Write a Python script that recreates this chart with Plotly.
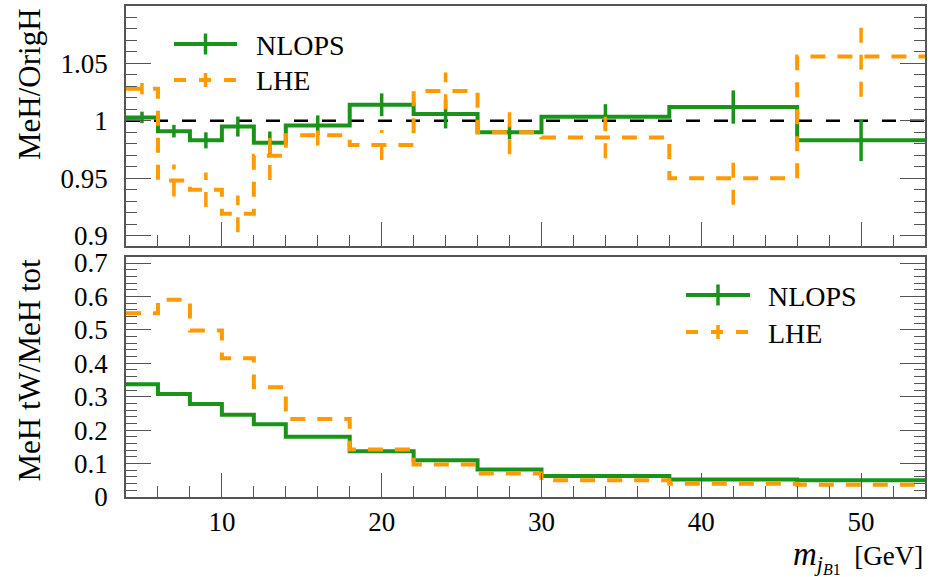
import plotly.graph_objects as go

# ---------------- data ----------------
bin_edges = [4, 6, 8, 10, 12, 14, 18, 22, 26, 30, 38, 46, 54]

nlops_ratio = [1.003, 0.991, 0.983, 0.995, 0.981, 0.996, 1.014, 1.006, 0.990, 1.0035, 1.012, 0.983]
nlops_ratio_err = [0.005, 0.0055, 0.007, 0.0087, 0.0097, 0.0087, 0.0099, 0.0126, 0.006, 0.011, 0.0145, 0.018]

lhe_ratio = [1.028, 0.948, 0.940, 0.919, 0.9695, 0.9875, 0.979, 1.026, 0.990, 0.9855, 0.950, 1.056]
lhe_ratio_err = [0.005, 0.014, 0.015, 0.016, 0.021, 0.009, 0.013, 0.016, 0.019, 0.018, 0.023, 0.035]

nlops_frac = [0.337, 0.308, 0.278, 0.246, 0.218, 0.180, 0.137, 0.110, 0.082, 0.063, 0.052, 0.050]
lhe_frac = [0.550, 0.590, 0.498, 0.415, 0.328, 0.233, 0.142, 0.097, 0.070, 0.050, 0.040, 0.037]

top_tickvals = [0.9, 0.95, 1.0, 1.05]
top_ticktext = ["0.9", "0.95", "1", "1.05"]
bot_tickvals = [0, 0.1, 0.2, 0.3, 0.4, 0.5, 0.6, 0.7]
bot_ticktext = ["0", "0.1", "0.2", "0.3", "0.4", "0.5", "0.6", "0.7"]
x_tickvals = [10, 20, 30, 40, 50]
x_ticktext = ["10", "20", "30", "40", "50"]

series_names = ["NLOPS", "LHE"]

# ---------------- style ----------------
GREEN = "#1b931b"
ORANGE = "#ff9a00"
FONT = "Liberation Serif"
AXC = "#555555"
W, H = 935, 577
L, R, T, B = 126, 10, 6, 80
TOP_DOM = [0.5112, 1.0]
BOT_DOM = [0.0, 0.4888]

centers = [(a + b) / 2 for a, b in zip(bin_edges[:-1], bin_edges[1:])]


def step_xy(vals):
    return bin_edges, list(vals) + [vals[-1]]


def err_xy(vals, errs):
    xs, ys = [], []
    for c, v, e in zip(centers, vals, errs):
        xs += [c, c, None]
        ys += [v - e, v + e, None]
    return xs, ys


fig = go.Figure()

# ---- top panel ----
x, y = step_xy(nlops_ratio)
fig.add_trace(go.Scatter(x=x, y=y, mode="lines", line=dict(color=GREEN, width=4, shape="hv"),
                         xaxis="x", yaxis="y", showlegend=False, name=series_names[0]))
x, y = err_xy(nlops_ratio, nlops_ratio_err)
fig.add_trace(go.Scatter(x=x, y=y, mode="lines", line=dict(color=GREEN, width=3.5),
                         xaxis="x", yaxis="y", showlegend=False, hoverinfo="skip"))
x, y = step_xy(lhe_ratio)
fig.add_trace(go.Scatter(x=x, y=y, mode="lines", line=dict(color=ORANGE, width=4, shape="hv", dash="15px,12px"),
                         xaxis="x", yaxis="y", showlegend=False, name=series_names[1]))
x, y = err_xy(lhe_ratio, lhe_ratio_err)
fig.add_trace(go.Scatter(x=x, y=y, mode="lines", line=dict(color=ORANGE, width=3.5, dash="15px,12px"),
                         xaxis="x", yaxis="y", showlegend=False, hoverinfo="skip"))
# dummy for right-side ticks
fig.add_trace(go.Scatter(x=[None], y=[None], xaxis="x", yaxis="y3", showlegend=False))

# ---- bottom panel ----
x, y = step_xy(nlops_frac)
fig.add_trace(go.Scatter(x=x, y=y, mode="lines", line=dict(color=GREEN, width=4, shape="hv"),
                         xaxis="x2", yaxis="y2", showlegend=False, name=series_names[0]))
x, y = step_xy(lhe_frac)
fig.add_trace(go.Scatter(x=x, y=y, mode="lines", line=dict(color=ORANGE, width=4, shape="hv", dash="15px,12px"),
                         xaxis="x2", yaxis="y2", showlegend=False, name=series_names[1]))
fig.add_trace(go.Scatter(x=[None], y=[None], xaxis="x2", yaxis="y4", showlegend=False))

xr = [bin_edges[0], bin_edges[-1]]
top_range = [0.891, 1.1]
bot_range = [0, 0.718]

common_x = dict(range=xr, showgrid=False, zeroline=False, showline=True, mirror=True, automargin=False,
                linecolor=AXC, linewidth=1.5, ticks="inside", ticklen=24, tickwidth=1.4,
                tickcolor=AXC, tickmode="array", tickvals=x_tickvals, ticktext=x_ticktext,
                minor=dict(ticks="inside", ticklen=11, tickwidth=1.2, tickcolor=AXC,
                           tickmode="linear", tick0=0, dtick=2),
                tickfont=dict(family=FONT, size=27, color="black"))

common_y = dict(showgrid=False, zeroline=False, ticks="inside", ticklen=25, tickwidth=1.4, automargin=False,
                tickcolor=AXC, tickfont=dict(family=FONT, size=27, color="black"))

fig.update_layout(
    width=W, height=H, margin=dict(l=L, r=R, t=T, b=B, autoexpand=False),
    paper_bgcolor="white", plot_bgcolor="white", showlegend=False,
    xaxis=dict(**common_x, anchor="y", showticklabels=False),
    xaxis2=dict(**common_x, anchor="y2", showticklabels=True, ticklabelstandoff=0),
    yaxis=dict(**common_y, domain=TOP_DOM, range=top_range, anchor="x",
               showline=True, mirror=True, linecolor=AXC, linewidth=1.5,
               tickmode="array", tickvals=top_tickvals, ticktext=top_ticktext, ticklabelstandoff=11,
               minor=dict(ticks="inside", ticklen=11, tickwidth=1.2, tickcolor=AXC,
                          tickmode="linear", tick0=0.9, dtick=0.01)),
    yaxis3=dict(**common_y, range=top_range, overlaying="y", side="right", anchor="x",
                showticklabels=False, showline=False,
                tickmode="array", tickvals=top_tickvals,
                minor=dict(ticks="inside", ticklen=11, tickwidth=1.2, tickcolor=AXC,
                           tickmode="linear", tick0=0.9, dtick=0.01)),
    yaxis2=dict(**common_y, domain=BOT_DOM, range=bot_range, anchor="x2",
                showline=True, mirror=True, linecolor=AXC, linewidth=1.5,
                tickmode="array", tickvals=bot_tickvals, ticktext=bot_ticktext, ticklabelstandoff=11,
                minor=dict(ticks="inside", ticklen=11, tickwidth=1.2, tickcolor=AXC,
                           tickmode="linear", tick0=0, dtick=0.02)),
    yaxis4=dict(**common_y, range=bot_range, overlaying="y2", side="right", anchor="x2",
                showticklabels=False, showline=False,
                tickmode="array", tickvals=bot_tickvals,
                minor=dict(ticks="inside", ticklen=11, tickwidth=1.2, tickcolor=AXC,
                           tickmode="linear", tick0=0, dtick=0.02)),
)

# reference line at 1
fig.add_shape(type="line", xref="x domain", yref="y", x0=0, x1=1, y0=1, y1=1,
              line=dict(color="black", width=2.5, dash="14px,14px"), layer="below")


def px2p(px, py):
    return (px - L) / (W - L - R), (H - B - py) / (H - T - B)


def legend(x0, x1, yrow1, yrow2, textx):
    xc = (x0 + x1) / 2
    # NLOPS
    a, b = px2p(x0, yrow1)
    c, _ = px2p(x1, yrow1)
    fig.add_shape(type="line", xref="paper", yref="paper", x0=a, x1=c, y0=b, y1=b,
                  line=dict(color=GREEN, width=4))
    xm, ya = px2p(xc, yrow1 - 10.5)
    _, yb = px2p(xc, yrow1 + 10.5)
    fig.add_shape(type="line", xref="paper", yref="paper", x0=xm, x1=xm, y0=ya, y1=yb,
                  line=dict(color=GREEN, width=3.5))
    tx, ty = px2p(textx, yrow1 + 1)
    fig.add_annotation(x=tx, y=ty, xref="paper", yref="paper", text=series_names[0],
                       showarrow=False, xanchor="left", yanchor="middle",
                       font=dict(family=FONT, size=28, color="black"))
    # LHE
    a, b = px2p(x0, yrow2)
    c, _ = px2p(x1 + 1, yrow2)
    fig.add_shape(type="line", xref="paper", yref="paper", x0=a, x1=c, y0=b, y1=b,
                  line=dict(color=ORANGE, width=4, dash="12px,13px"))
    xm, ya = px2p(xc, yrow2 - 7)
    _, yb = px2p(xc, yrow2 + 7)
    fig.add_shape(type="line", xref="paper", yref="paper", x0=xm, x1=xm, y0=ya, y1=yb,
                  line=dict(color=ORANGE, width=3.5))
    tx, ty = px2p(textx, yrow2 + 1)
    fig.add_annotation(x=tx, y=ty, xref="paper", yref="paper", text=series_names[1],
                       showarrow=False, xanchor="left", yanchor="middle",
                       font=dict(family=FONT, size=28, color="black"))


legend(174, 237, 44, 80, 254)
legend(686, 750, 295, 332, 766)

# axis titles (top aligned, like the original)
fig.add_annotation(x=px2p(29, 0)[0], y=1, xref="paper", yref="paper", text="MeH/OrigH",
                   textangle=-90, showarrow=False, xanchor="center", yanchor="top",
                   font=dict(family=FONT, size=31, color="black"))
fig.add_annotation(x=px2p(29, 0)[0], y=BOT_DOM[1], xref="paper", yref="paper", text="MeH tW/MeH tot",
                   textangle=-90, showarrow=False, xanchor="center", yanchor="top",
                   font=dict(family=FONT, size=31, color="black"))
fig.add_annotation(x=1, y=px2p(0, 557)[1], xref="paper", yref="paper",
                   text=("<span style='font-size:33px'><i>m</i></span>"
                         "<sub><span style='font-size:22px'><i>j</i></span>"
                         "<sub><span style='font-size:16px'><i>B</i>1</span></sub></sub>  [GeV]"),
                   showarrow=False, xanchor="right", yanchor="middle",
                   font=dict(family=FONT, size=27, color="black"))

fig.write_html("out.html")
